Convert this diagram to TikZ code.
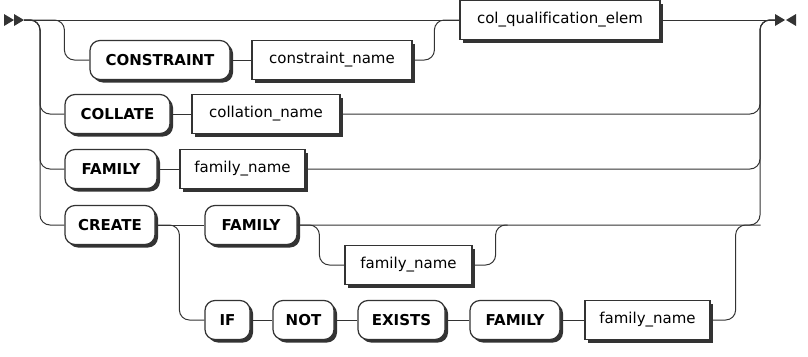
\documentclass[tikz,border=0pt]{standalone}
\usepackage{fontspec}
\setmainfont{DejaVu Sans}[Ligatures=NoCommon]
\usepackage{tikz}
\usetikzlibrary{calc,shadows}

\definecolor{railgray}{HTML}{333333}

\begin{document}
\begin{tikzpicture}[
  x=1pt, y=-1pt,
  box/.style={draw=railgray, line width=1.2pt, fill=white, minimum height=39pt, inner sep=0pt,
    font=\fontsize{15}{17}\selectfont,
    drop shadow={shadow xshift=3pt, shadow yshift=-3pt, fill=railgray, opacity=1}},
  keyword/.style={box, rounded corners=10pt, font=\fontsize{15}{17}\selectfont\bfseries},
  ident/.style={box},
  rail/.style={draw=railgray, line width=1pt, rounded corners=10pt}
]
  \useasboundingbox (0,0) rectangle (808,356);

  % start and end marks
  \fill[railgray] (4,14) -- (14,20) -- (4,26) -- cycle;
  \fill[railgray] (14,14) -- (24,20) -- (14,26) -- cycle;
  \fill[railgray] (775,14) -- (785,20) -- (775,26) -- cycle;
  \fill[railgray] (796,14) -- (786,20) -- (796,26) -- cycle;
  \coordinate (st) at (24,20);
  \coordinate (en) at (775,20);

  % nodes
  \node[ident, minimum width=200pt] (colq) at (560,20) {col\_qualification\_elem};
  \node[keyword, minimum width=140pt] (constraint) at (160,60) {CONSTRAINT};
  \node[ident, minimum width=160pt] (cname) at (332,60) {constraint\_name};
  \node[keyword, minimum width=105pt] (collate) at (117.5,114) {COLLATE};
  \node[ident, minimum width=148pt] (collname) at (266,114) {collation\_name};
  \node[keyword, minimum width=92pt] (family1) at (111,169) {FAMILY};
  \node[ident, minimum width=125pt] (famname1) at (242.5,169) {family\_name};
  \node[keyword, minimum width=90pt] (create) at (110,225) {CREATE};
  \node[keyword, minimum width=92pt] (family2) at (251,225) {FAMILY};
  \node[ident, minimum width=127pt] (famname2) at (408.5,265) {family\_name};
  \node[keyword, minimum width=45pt] (if) at (227.5,320) {IF};
  \node[keyword, minimum width=61pt] (not) at (303.5,320) {NOT};
  \node[keyword, minimum width=87pt] (exists) at (401.5,320) {EXISTS};
  \node[keyword, minimum width=90pt] (family3) at (515,320) {FAMILY};
  \node[ident, minimum width=125pt] (famname3) at (647.5,320) {family\_name};

  % connectors
  \draw[rail] (st) -- (colq.west);
  \draw[rail] (colq.east) -- (en);
  \draw[rail] (st) -- ++(16,0) |- (collate.west);
  \draw[rail] (st) -- ++(16,0) |- (family1.west);
  \draw[rail] (st) -- ++(16,0) |- (create.west);
  \draw[rail] (st) -| ($(constraint.west)+(-25,0)$) -- (constraint.west);
  \draw[rail] (constraint) -- (cname);
  \draw[rail] (cname.east) -| ($(colq.west)+(-25,0)$) -- (colq.west);
  \draw[rail] (collate) -- (collname);
  \draw[rail] (family1) -- (famname1);
  \draw[rail] (create) -- (family2);
  \draw[rail] (collname.east) -| ($(en)+(-15,0)$) -- (en);
  \draw[rail] (famname1.east) -| ($(en)+(-15,0)$) -- (en);
  \draw[rail] (family2.east) -| ($(en)+(-15,0)$) -- (en);
  \draw[rail] (family2.east) -| ($(famname2.west)+(-25,0)$) -- (famname2.west);
  \draw[rail] (famname2.east) -| ($(famname2.east)+(23,-40)$) -- ++(12,0);
  \draw[rail] (create.east) -| ($(if.west)+(-25,0)$) -- (if.west);
  \draw[rail] (if) -- (not);
  \draw[rail] (not) -- (exists);
  \draw[rail] (exists) -- (family3);
  \draw[rail] (family3) -- (famname3);
  \draw[rail] (famname3.east) -| ($(famname3.east)+(25,-95)$) -- ++(25,0);
\end{tikzpicture}
\end{document}
